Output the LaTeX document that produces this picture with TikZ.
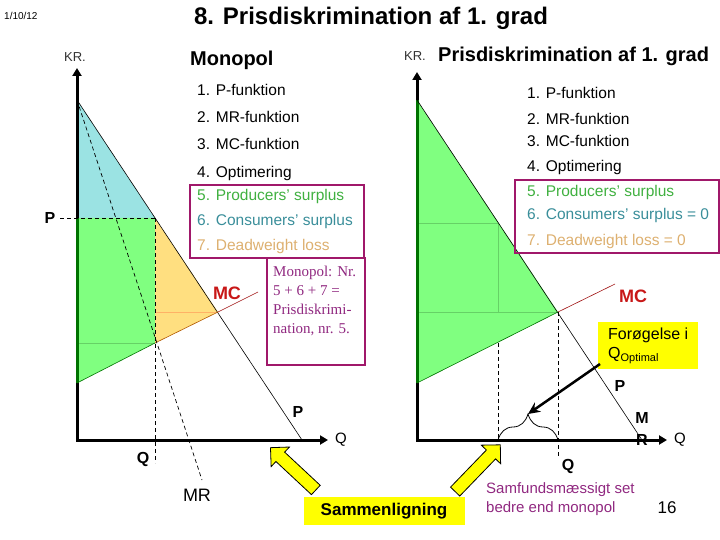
\documentclass[tikz,border=0pt]{standalone}
\usepackage{fontspec}
\setmainfont{Liberation Sans}
\newfontfamily\serifface{Liberation Serif}
\usepackage{tikz}
\usetikzlibrary{positioning,arrows.meta,shapes.arrows,decorations.pathreplacing}
\definecolor{cscol}{HTML}{9BE3E3}
\definecolor{pscol}{HTML}{80FF80}
\definecolor{dwcol}{HTML}{FFDF80}
\definecolor{pstext}{HTML}{40B040}
\definecolor{cstext}{HTML}{3A8E9A}
\definecolor{dwtext}{HTML}{DDB070}
\definecolor{framecol}{HTML}{A0186A}
\definecolor{socl}{HTML}{902880}
\definecolor{mcred}{HTML}{C81818}
\definecolor{note}{HTML}{FFFF00}
\tikzset{
  axis/.style={line width=3pt,{Triangle[length=8pt,width=9pt]}-{Triangle[length=8pt,width=9pt]}},
  curve/.style={line width=0.6pt},
  guide/.style={line width=0.7pt,dash pattern=on 4pt off 3pt},
  item/.style={anchor=west,inner sep=0pt,font=\fontsize{15.5}{18}\selectfont},
  lab/.style={inner sep=0pt,font=\bfseries\fontsize{16}{18}\selectfont},
  kr/.style={inner sep=0pt,text=black!80,font=\fontsize{13}{15}\selectfont},
  head/.style={anchor=west,inner sep=0pt,font=\bfseries\fontsize{20}{24}\selectfont},
  listbox/.style={draw=framecol,line width=2.5pt},
  fatarrow/.style={single arrow,draw=black,fill=note,line width=0.8pt,minimum width=26pt,
    single arrow head extend=7pt,inner xsep=0pt,inner ysep=6pt}
}
\begin{document}
\begin{tikzpicture}[x=1pt,y=-1pt]
\useasboundingbox (0,0) rectangle (720,540);

\node[anchor=west,inner sep=0pt,font=\fontsize{10}{12}\selectfont] (date) at (4,16) {1/10/12};
\node[font=\bfseries\fontsize{24}{28}\selectfont] (title) at (371,18) {8. Prisdiskrimination af 1. grad};

% monopol
\coordinate (o1) at (77,440);
\coordinate (y1) at (77,68);
\coordinate (x1) at (328,440);
\coordinate (d1) at (77,100);
\coordinate (e1) at (302,440);
\coordinate (c1) at (77,383);
\coordinate (m1) at (258,292);
\coordinate (p1) at (77,218);
\coordinate (pq) at (155,218);
\coordinate (mq) at (155,343);
\coordinate (cq) at (218,312);
\coordinate (r1) at (202,480);
\coordinate (q1) at (155,463);
\coordinate (g1) at (77,343);
\coordinate (h1) at (155,312);

\fill[cscol] (d1) -- (pq) -- (p1) -- cycle;
\fill[pscol] (p1) -- (pq) -- (mq) -- (c1) -- cycle;
\fill[dwcol] (pq) -- (cq) -- (mq) -- cycle;
\draw[green!70!black!60,line width=0.5pt] (g1) -- (mq);
\draw[orange!60,line width=0.5pt] (h1) -- (cq);

\draw[axis] (y1) -- (o1) -- (x1);
\draw[green!45!black,line width=3pt] (p1) -- (c1);
\draw[curve] (d1) -- (e1);
\draw[curve,green!45!black] (c1) -- (mq);
\draw[curve,orange!70!black] (mq) -- (cq);
\draw[curve,mcred!80!black] (cq) -- (m1);
\draw[guide] (d1) -- (r1);
\draw[guide] (pq) -- (q1);
\draw[guide] (60,218) -- (pq);

\node[kr] (kr1) at (75,57) {KR.};
\node[lab] (pl1) at (50,218) {P};
\node[lab] (pd1) at (298,412) {P};
\node[lab] (ql1) at (143,459) {Q};
\node[inner sep=0pt,font=\fontsize{15}{18}\selectfont] (qa1) at (341,440) {Q};
\node[inner sep=0pt,font=\fontsize{18}{20}\selectfont] (mr1) at (197,495) {MR};
\node[lab,text=mcred,font=\bfseries\fontsize{18}{20}\selectfont] (mc1) at (227,293) {MC};

\node[head] (mono) at (190,60) {Monopol};
\foreach \y/\c/\t [count=\i] in {90/black/1. P-funktion,117/black/2. MR-funktion,
    144/black/3. MC-funktion,173/black/4. Optimering,196/pstext/5. Producers' surplus,
    221/cstext/6. Consumers' surplus,246/dwtext/7. Deadweight loss}
  \node[item,text=\c] (l\i) at (197,\y) {\t};
\draw[listbox] (190,185) rectangle (364,258);
\draw[listbox] (267,258) rectangle (365,365);
\node[anchor=north west,inner sep=0pt,align=left,text=socl,
  font=\serifface\fontsize{15}{19}\selectfont] (mtext) at (273,266)
  {Monopol: Nr.\\5 + 6 + 7 =\\Prisdiskrimi-\\nation, nr. 5.};

% prisdiskrimination
\coordinate (o2) at (417,440);
\coordinate (y2) at (417,72);
\coordinate (x2) at (667,440);
\coordinate (d2) at (417,100);
\coordinate (e2) at (642,440);
\coordinate (c2) at (417,383);
\coordinate (m2) at (615,284);
\coordinate (cq2) at (558,312);
\coordinate (mq2) at (498,343);
\coordinate (f2) at (417,223);
\coordinate (k2) at (498,223);
\coordinate (h2) at (498,312);
\coordinate (g2) at (417,312);
\coordinate (b1) at (498,440);
\coordinate (b2) at (558,440);
\coordinate (q2) at (558,456);

\fill[pscol] (d2) -- (cq2) -- (c2) -- cycle;
\draw[green!70!black!60,line width=0.5pt] (f2) -- (k2) -- (h2);
\draw[green!70!black!60,line width=0.5pt] (g2) -- (cq2);

\draw[axis] (y2) -- (o2) -- (x2);
\draw[green!45!black,line width=3pt] (d2) -- (c2);
\draw[curve] (d2) -- (e2);
\draw[curve,green!45!black] (c2) -- (cq2);
\draw[curve,mcred!80!black] (cq2) -- (m2);
\draw[guide] (mq2) -- (b1);
\draw[guide] (cq2) -- (q2);
\draw[decorate,decoration={brace,amplitude=26pt},line width=0.8pt] (b1) -- (b2);

\node[kr] (kr2) at (415,56) {KR.};
\node[head] (pd) at (438,56) {Prisdiskrimination af 1. grad};
\foreach \y/\c/\t [count=\i] in {93/black/1. P-funktion,119/black/2. MR-funktion,
    141/black/3. MC-funktion,167/black/4. Optimering,192/pstext/5. Producers' surplus,
    215/cstext/6. Consumers' surplus = 0,241/dwtext/7. Deadweight loss = 0}
  \node[item,text=\c] (r\i) at (527,\y) {\t};
\draw[listbox] (515,180) rectangle (719,253);

\node[lab,text=mcred,font=\bfseries\fontsize{18}{20}\selectfont] (mc2) at (633,296) {MC};
\node[lab] (pd2) at (620,386) {P};
\node[lab] (mm2) at (642,418) {M};
\node[lab] (rr2) at (642,440) {R};
\node[inner sep=0pt,font=\fontsize{15}{18}\selectfont] (qa2) at (680,440) {Q};
\node[lab] (ql2) at (568,466) {Q};

\node[anchor=north west,fill=note,minimum width=100pt,minimum height=47pt,
  inner sep=3pt,align=left,font=\fontsize{16}{19}\selectfont] (gain) at (598,322)
  {Forøgelse i\\Q\raisebox{-3pt}{\fontsize{11}{12}\selectfont Optimal}};
\coordinate (gs) at (600,364);
\coordinate (bt) at (528,414);
\draw[line width=2.5pt,-{Stealth[length=12pt,width=11pt]}] (gs) -- (bt);

% bund
\node[fill=note,minimum width=161pt,minimum height=28pt,inner sep=0pt,
  font=\bfseries\fontsize{17}{20}\selectfont] (cmp) at (384,511) {Sammenligning};
\node[fatarrow,minimum height=62pt,rotate=137] (ar1) at (295.5,471) {};
\node[fatarrow,minimum height=65pt,rotate=46] (ar2) at (475.5,470.5) {};
\node[anchor=north west,inner sep=0pt,align=left,text=socl,
  font=\fontsize{15}{19}\selectfont] (soc) at (486,482)
  {Samfundsmæssigt set\\bedre end monopol};
\node[inner sep=0pt,font=\fontsize{17}{20}\selectfont] (pg) at (667,508) {16};
\end{tikzpicture}
\end{document}
